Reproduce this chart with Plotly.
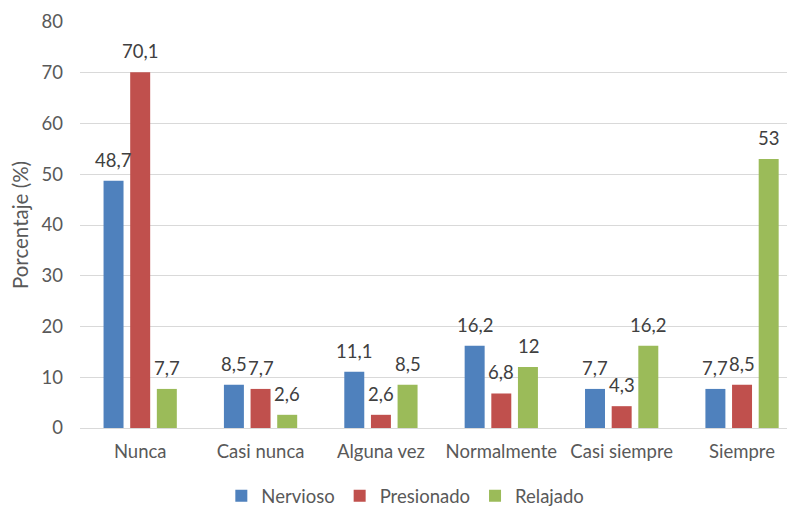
import plotly.graph_objects as go

categories = ["Nunca", "Casi nunca", "Alguna vez", "Normalmente", "Casi siempre", "Siempre"]
nervioso = [48.7, 8.5, 11.1, 16.2, 7.7, 7.7]
presionado = [70.1, 7.7, 2.6, 6.8, 4.3, 8.5]
relajado = [7.7, 2.6, 8.5, 12.0, 16.2, 53.0]
series_names = ["Nervioso", "Presionado", "Relajado"]
colors = ["#4F81BD", "#C0504D", "#9BBB59"]
y_ticks = [0, 10, 20, 30, 40, 50, 60, 70, 80]

FONT = "Lato, Open Sans, sans-serif"
FS = 18.5


def fmt(v):
    return ("%g" % v).replace(".", ",")


fig = go.Figure()
all_series = [nervioso, presionado, relajado]
for name, vals, col in zip(series_names, all_series, colors):
    fig.add_trace(go.Bar(
        x=categories, y=vals, name=name,
        marker=dict(color=col, line=dict(width=0)),
    ))

# data labels placed above each bar
group_offsets = [-26.7, 0, 26.7]
for vals, off in zip(all_series, group_offsets):
    for c, v in zip(categories, vals):
        fig.add_annotation(
            x=c, y=v, text=fmt(v), showarrow=False,
            xshift=off, yshift=8, yanchor="bottom",
            font=dict(family=FONT, size=FS, color="#404040"),
        )

# the page body adds an 8px offset, so the figure is 8px smaller
fig.update_layout(
    width=787, height=501,
    margin=dict(l=72, r=0, t=14, b=81, autoexpand=False),
    paper_bgcolor="white", plot_bgcolor="white",
    barmode="group", bargap=0.336, bargroupgap=0.25,
    font=dict(family=FONT, size=FS, color="#595959"),
    legend=dict(
        orientation="h", x=0.455, xanchor="center", y=-0.168, yanchor="middle",
        font=dict(family=FONT, size=FS, color="#595959"),
        itemwidth=30, traceorder="normal",
    ),
    xaxis=dict(
        range=[-0.5, 5.44], showgrid=False, showline=False, zeroline=False,
        ticks="", ticklabelstandoff=10, automargin=False,
        tickfont=dict(family=FONT, size=FS, color="#595959"),
    ),
    yaxis=dict(
        range=[0, 80], tickvals=y_ticks, showgrid=True, gridcolor="#D9D9D9",
        gridwidth=1, zeroline=True, zerolinecolor="#D9D9D9", zerolinewidth=1,
        showline=False, ticks="", ticklabelstandoff=16, automargin=False,
        tickfont=dict(family=FONT, size=FS, color="#595959"),
        title=dict(text="Porcentaje (%)", standoff=8,
                   font=dict(family=FONT, size=20.5, color="#595959")),
    ),
)

fig.write_html("out.html")
